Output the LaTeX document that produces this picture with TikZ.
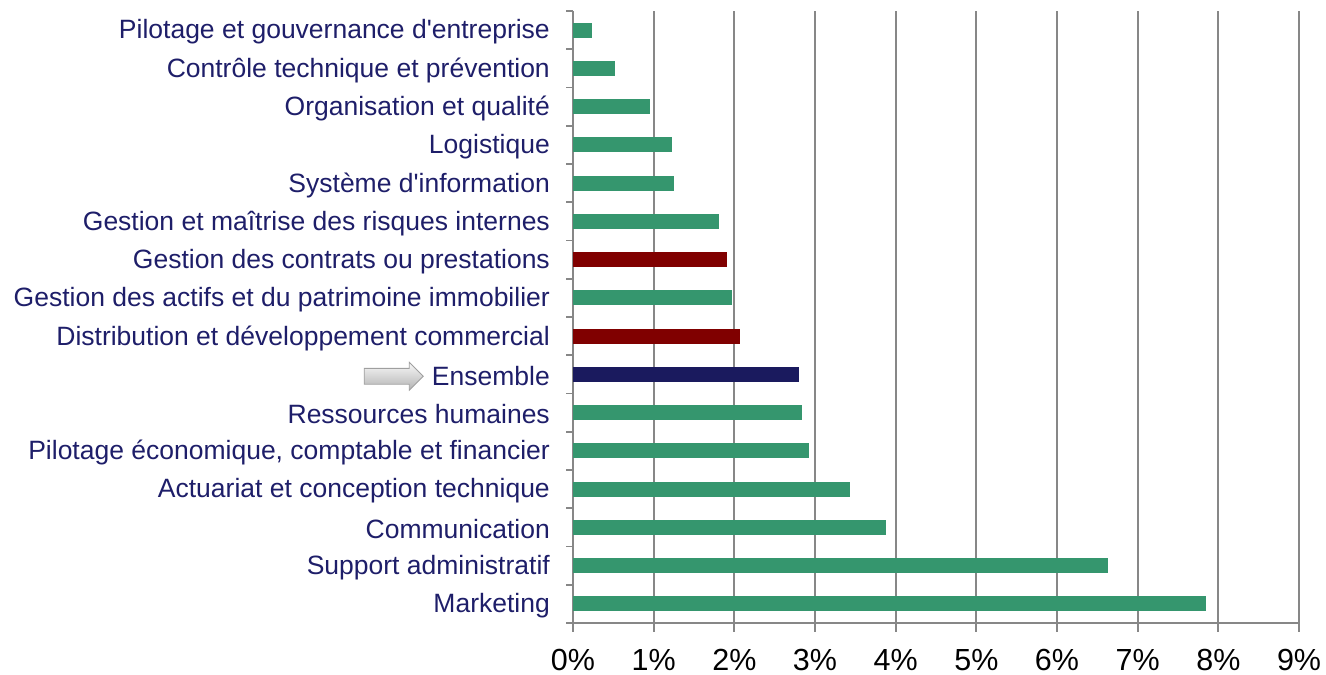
\documentclass[tikz,border=0pt]{standalone}
\usepackage{fontspec}
\setmainfont{Liberation Sans}
\usetikzlibrary{positioning,shapes.arrows}

\definecolor{vert}{RGB}{53,150,110}
\definecolor{rouge}{RGB}{128,0,0}
\definecolor{marine}{RGB}{26,26,94}
\definecolor{texte}{RGB}{30,30,105}
\definecolor{grille}{RGB}{135,135,135}

% one row: name, row index, label, value (%), bar colour
\newcommand{\ligne}[5]{%
  \node[etiq] (#1) at (550,{32+38.25*#2}) {#3};
  \fill[#5] (573,{22.6+38.25*#2}) rectangle ({573+80.67*#4},{37.6+38.25*#2});
}

\begin{document}
\begin{tikzpicture}[
	x=1pt, y=-1pt,
	etiq/.style={anchor=east, inner sep=0pt, text=texte, font=\fontsize{26.5}{28}\selectfont},
	pourcent/.style={inner sep=0pt, text=black, font=\fontsize{30.5}{32}\selectfont},
	linie/.style={draw=grille, line width=1.8pt},
	fleche/.style={single arrow, draw=gray!75, line width=0.8pt, shading=axis, top color=gray!5, bottom color=gray!60,
	  inner xsep=0pt, inner ysep=7.5pt, minimum height=59pt, single arrow head extend=6pt}
	]
\useasboundingbox (0,0) rectangle (1326,675);

% grid and axes
\foreach \i in {1,...,9}
  \draw[linie] ({573+80.67*\i},11) -- ({573+80.67*\i},632);
\draw[linie] (573,11) -- (573,632);
\draw[linie] (573,623) -- (1299,623);
\foreach \k in {0,...,16}
  \draw[linie] (566,{11+38.25*\k}) -- (573,{11+38.25*\k});
\foreach \i in {0,...,9}
  \node[pourcent] (p\i) at ({573+80.67*\i},660) {\i\%};

\ligne{pilotage}{0}{Pilotage et gouvernance d\textquotesingle entreprise}{0.24}{vert}
\ligne{controle}{1}{Contrôle technique et prévention}{0.52}{vert}
\ligne{organisation}{2}{Organisation et qualité}{0.95}{vert}
\ligne{logistique}{3}{Logistique}{1.23}{vert}
\ligne{systeme}{4}{Système d\textquotesingle information}{1.25}{vert}
\ligne{risques}{5}{Gestion et maîtrise des risques internes}{1.81}{vert}
\ligne{contrats}{6}{Gestion des contrats ou prestations}{1.91}{rouge}
\ligne{actifs}{7}{Gestion des actifs et du patrimoine immobilier}{1.97}{vert}
\ligne{distribution}{8}{Distribution et développement commercial}{2.07}{rouge}
\ligne{ensemble}{9}{Ensemble}{2.80}{marine}
\ligne{rh}{10}{Ressources humaines}{2.84}{vert}
\ligne{ecofin}{11}{Pilotage économique, comptable et financier}{2.93}{vert}
\ligne{actuariat}{12}{Actuariat et conception technique}{3.43}{vert}
\ligne{communication}{13}{Communication}{3.88}{vert}
\ligne{support}{14}{Support administratif}{6.63}{vert}
\ligne{marketing}{15}{Marketing}{7.85}{vert}

\node[fleche, left=8pt of ensemble] (pointeur) {};

\end{tikzpicture}
\end{document}
